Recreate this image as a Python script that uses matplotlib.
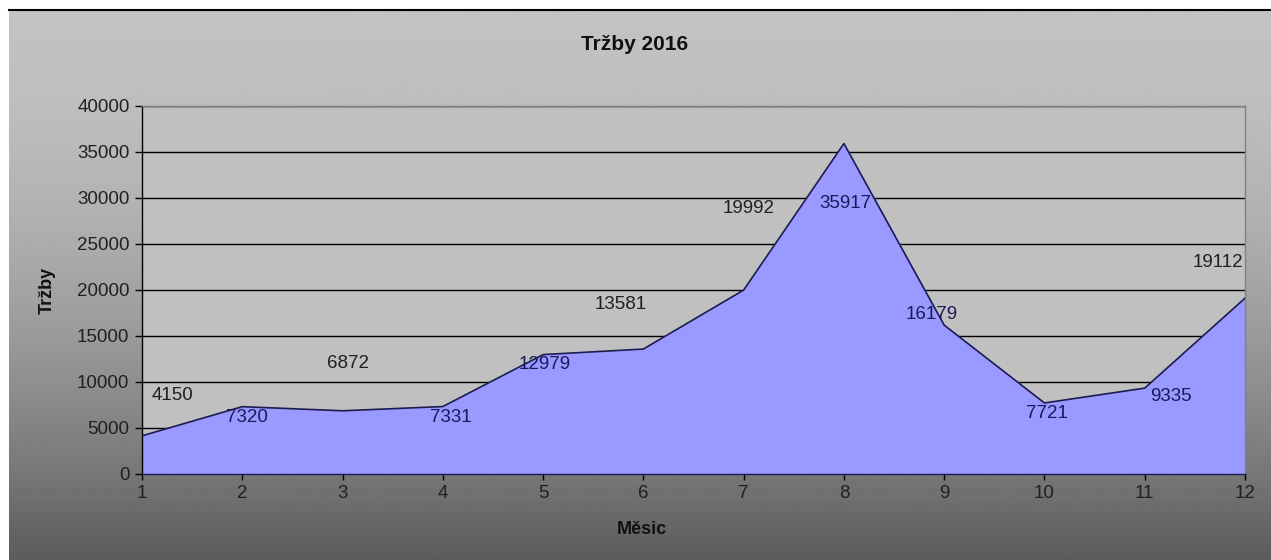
import numpy as np
import matplotlib.pyplot as plt

# data
months = [1, 2, 3, 4, 5, 6, 7, 8, 9, 10, 11, 12]
sales = [4150, 7320, 6872, 7331, 12979, 13581, 19992, 35917, 16179, 7721, 9335, 19112]
yticks = [0, 5000, 10000, 15000, 20000, 25000, 30000, 35000, 40000]

# where each value label sits relative to its point (pixels)
label_offsets = [(30, 40), (5, -11), (5, 47), (8, -11), (2, -10), (-23, 45),
                 (5, 82), (1, -60), (-12, 11), (2, -11), (26, -8), (-27, 36)]

W, H = 1271, 560
plt.rcParams['font.family'] = ['Liberation Sans', 'DejaVu Sans']

fig = plt.figure(figsize=(W / 100, H / 100), dpi=100)
fig.patch.set_facecolor('white')

# gradient background of the chart area
bg = fig.add_axes([9 / W, 0, 1 - 9 / W, 550 / H])
t = np.linspace(0, 1, 300)[:, None]
shade = 0.76 - 0.40 * t ** 1.8
bg.imshow(np.repeat(shade, 2, axis=1), cmap='gray', vmin=0, vmax=1,
          aspect='auto', extent=[0, 1, 0, 1], origin='upper')
bg.set_axis_off()
fig.add_artist(plt.Line2D([9 / W, 1], [550 / H, 550 / H], color='black', lw=1.5))

ax = fig.add_axes([142 / W, (H - 474) / H, 1103 / W, 368 / H])
ax.set_facecolor('#c0c0c0')
ax.fill_between(months, sales, 0, color='#9999ff', zorder=2)
ax.plot(months, sales, color='#1c1c50', lw=1.2, zorder=3)

ax.set_xlim(1, 12)
ax.set_ylim(0, 40000)
ax.set_xticks(months)
ax.set_yticks(yticks)
ax.set_yticklabels([str(v) for v in yticks])
ax.grid(axis='y', color='black', lw=1, zorder=1)
ax.set_axisbelow(True)
ax.tick_params(axis='both', labelsize=13.5, labelcolor='#202020', direction='out',
               length=5, width=1, color='black', pad=4)
ax.tick_params(axis='x', length=4, pad=4)
ax.spines['left'].set_color('black')
ax.spines['bottom'].set_color('#1c1c50')
ax.spines['right'].set_color('#808080')
ax.spines['top'].set_color('#808080')
for s in ax.spines.values():
    s.set_linewidth(1)

for i, (m, v, (dx, dy)) in enumerate(zip(months, sales, label_offsets)):
    # labels sitting on the blue area read darker navy than those on grey
    col = '#1a1a5a' if dy < 0 or i == 8 else '#202020'
    ax.annotate(str(v), (m, v), xytext=(dx, dy), textcoords='offset pixels',
                ha='center', va='center', fontsize=13.5, color=col, zorder=4)

fig.text(635 / W, 1 - 45 / H, 'Tržby 2016', ha='center', va='center',
         fontsize=15, fontweight='bold', color='#101010')
fig.text(642 / W, 1 - 530 / H, 'Měsic', ha='center', va='center',
         fontsize=13, fontweight='bold', color='#101010')
fig.text(47 / W, 1 - 290 / H, 'Tržby', ha='center', va='center', rotation=90,
         fontsize=13, fontweight='bold', color='#101010')

fig.savefig('out.png', dpi=100)
